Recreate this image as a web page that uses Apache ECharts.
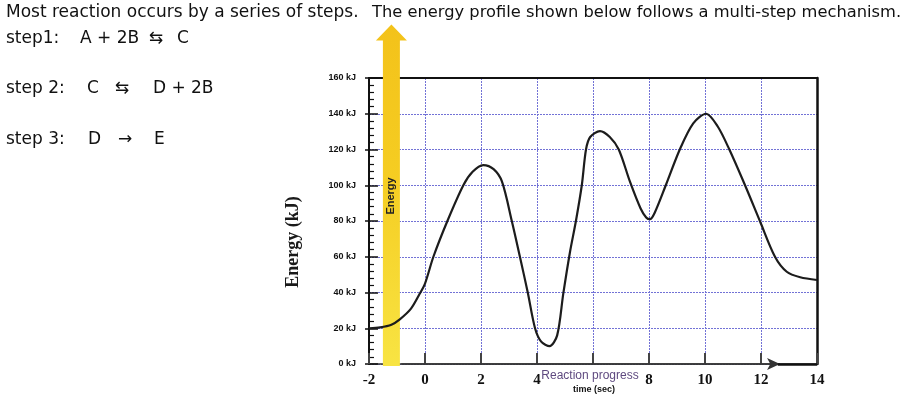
<!DOCTYPE html>
<html>
<head>
<meta charset="utf-8">
<script src="https://cdn.jsdelivr.net/npm/echarts@6/dist/echarts.min.js"></script>
<style>html,body{margin:0;padding:0;background:#fff}#c{width:913px;height:399px}</style>
</head>
<body>
<div id="c"></div>
<script>
// ---- data ----
const xTickValues = [-2, 0, 2, 4, 6, 8, 10, 12, 14];
const yTickValues = [0, 20, 40, 60, 80, 100, 120, 140, 160];
const progressX = [-2, -1.6, -1.2, -0.9, -0.5, -0.2, 0, 0.3, 0.8, 1.37, 1.7, 2.08, 2.45, 2.75, 3.1, 3.39, 3.67, 3.93, 4.15, 4.45, 4.72, 4.94, 5.18, 5.39, 5.6, 5.75, 5.9, 6.25, 6.6, 6.92, 7.32, 7.7, 7.9, 8.03, 8.2, 8.6, 9.1, 9.58, 10.04, 10.45, 10.87, 11.43, 11.96, 12.5, 12.92, 13.4, 14];
const energyKJ  = [20, 20.5, 22, 25, 31, 39, 45, 60, 80, 100, 107.5, 111.3, 109, 102, 80, 60, 40, 20, 12.5, 10, 16, 39.5, 62.8, 80, 100, 120, 127, 130.3, 127, 120, 102, 87, 82, 81, 84.5, 100, 120, 134.6, 140, 133, 120, 100, 80, 60, 51.6, 48.5, 47];
const headline = ['Most reaction occurs by a series of steps.', 'The energy profile shown below follows a multi-step mechanism.'];
const step1 = ['step1:', 'A + 2B', '\u21C6', 'C'];
const step2 = ['step 2:', 'C', '\u21C6', 'D +', '2B'];
const step3 = ['step 3:', 'D', '\u2192', 'E'];
const yAxisTitle = 'Energy (kJ)';
const barLabel = 'Energy';
const xTitle = 'Reaction progress';
const xSubTitle = 'time (sec)';

const curve = progressX.map((x, i) => [x, energyKJ[i]]);

const chart = echarts.init(document.getElementById('c'), null, {renderer: 'canvas'});
const headFont = {fontFamily: 'DejaVu Sans', fontSize: 17, fill: '#111'};
function txt(t, x, y, extra) {
  return {type: 'text', x: x, y: y, z: 100,
    style: Object.assign({text: t, align: 'left', verticalAlign: 'middle'}, headFont, extra || {})};
}
const rowXs1 = [6, 80, 149, 177];
const rowXs2 = [6, 87, 115, 153, 191];
const rowXs3 = [6, 88, 118, 154];
const graphics = [
  txt(headline[0], 6, 13),
  txt(headline[1], 372, 13, {fontSize: 16.3})
];
step1.forEach((t, i) => graphics.push(txt(t, rowXs1[i], 39)));
step2.forEach((t, i) => graphics.push(txt(t, rowXs2[i], 89)));
step3.forEach((t, i) => graphics.push(txt(t, rowXs3[i], 140)));
graphics.push({type: 'text', x: 293, y: 242, rotation: Math.PI / 2, z: 100,
  style: {text: yAxisTitle, fontFamily: 'Liberation Serif', fontWeight: 'bold', fontSize: 18, fill: '#1a1a1a', align: 'center', verticalAlign: 'middle'}});
graphics.push({type: 'text', x: 590, y: 376, z: 100,
  style: {text: xTitle, fontFamily: 'Liberation Sans', fontSize: 12, fill: '#5f4a80', align: 'center', verticalAlign: 'middle'}});
graphics.push({type: 'text', x: 594, y: 390, z: 100,
  style: {text: xSubTitle, fontFamily: 'Liberation Sans', fontWeight: 'bold', fontSize: 9, fill: '#111', align: 'center', verticalAlign: 'middle'}});

const dotted = {type: [2, 1], color: '#7272d6', width: 1};

const option = {
  animation: false,
  backgroundColor: '#fff',
  grid: {left: 369, right: 96, top: 78, bottom: 35, containLabel: false},
  xAxis: [{
    type: 'value', min: -2, max: 14, interval: 2,
    axisLine: {show: true, onZero: false, lineStyle: {color: '#333', width: 1.5}},
    axisTick: {show: true, inside: true, length: 11, lineStyle: {color: '#444', width: 2}},
    axisLabel: {formatter: v => (xTickValues.indexOf(v) >= 0 && v !== 6) ? String(v) : '',
      fontFamily: 'Liberation Serif', fontWeight: 'bold', fontSize: 15, color: '#111', margin: 9},
    splitLine: {show: true, lineStyle: dotted}
  }, {
    type: 'value', position: 'top', min: -2, max: 14, interval: 2,
    axisLine: {show: true, onZero: false, lineStyle: {color: '#111', width: 2}},
    axisTick: {show: false}, axisLabel: {show: false}, splitLine: {show: false}
  }],
  yAxis: [{
    type: 'value', min: 0, max: 160, interval: 20,
    axisLine: {show: true, onZero: false, lineStyle: {color: '#111', width: 2}},
    axisTick: {show: true, inside: true, length: 9, lineStyle: {color: '#111', width: 1.5}},
    minorTick: {show: true, splitNumber: 5, length: 5, lineStyle: {color: '#111', width: 1.2}},
    axisLabel: {formatter: v => (yTickValues.indexOf(v) >= 0 ? v + ' kJ' : ''), fontSize: 9,
      fontFamily: 'Liberation Sans', fontWeight: 'bold', color: '#111', margin: 13},
    splitLine: {show: true, lineStyle: dotted}
  }, {
    type: 'value', position: 'right', min: 0, max: 160, interval: 20,
    axisLine: {show: true, onZero: false, lineStyle: {color: '#111', width: 2.5}},
    axisTick: {show: false}, axisLabel: {show: false}, splitLine: {show: false}
  }, {
    type: 'value', position: 'left', min: 0, max: 160, interval: 20,
    axisLine: {show: false, onZero: false},
    axisTick: {show: true, inside: false, length: 4, lineStyle: {color: '#111', width: 1.5}},
    axisLabel: {show: false}, splitLine: {show: false}
  }],
  graphic: graphics,
  series: [{
    type: 'line', name: 'axisArrow', data: [[-2, 0]], symbol: 'none', silent: true, z: 1,
    lineStyle: {width: 0},
    markLine: {
      silent: true, animation: false, label: {show: false},
      data: [
        [{coord: [-0.85, 0], symbol: 'none', lineStyle: {color: '#333', width: 1.5, type: 'solid'}},
         {coord: [12.68, 0], symbol: 'arrow', symbolSize: [9, 13]}],
        [{coord: [12.6, 0], symbol: 'none', lineStyle: {color: '#111', width: 2.5, type: 'solid'}},
         {coord: [14, 0], symbol: 'none'}],
        [{coord: [14, 0], symbol: 'none', lineStyle: {color: '#111', width: 2.5, type: 'solid'}},
         {coord: [14, -4.5], symbol: 'none'}]
      ],
      itemStyle: {color: '#1f2d1f'}
    }
  }, {
    type: 'custom', name: 'energyArrow', silent: true, clip: false, z: 5,
    data: [0],
    renderItem: function (params, api) {
      const cx = api.coord([-1.2, 0])[0];
      const yb = api.coord([0, -1.1])[1];
      const yh = api.coord([0, 181])[1];
      const yt = api.coord([0, 190])[1];
      const hw = 8.5, hh = 15.5;
      return {type: 'group', children: [{
        type: 'polygon',
        shape: {points: [[cx - hw, yb], [cx - hw, yh], [cx - hh, yh], [cx, yt], [cx + hh, yh], [cx + hw, yh], [cx + hw, yb]]},
        style: {fill: new echarts.graphic.LinearGradient(0, 0, 0, 1, [
          {offset: 0, color: '#f3c21a'}, {offset: 0.45, color: '#f5cd22'}, {offset: 1, color: '#f8e443'}])}
      }, {
        type: 'text', x: cx, y: api.coord([0, 94])[1], rotation: Math.PI / 2,
        style: {text: barLabel, fontFamily: 'Liberation Sans', fontWeight: 'bold', fontSize: 11,
          fill: '#222', align: 'center', verticalAlign: 'middle'}
      }]};
    }
  }, {
    type: 'line', name: 'energy', data: curve, smooth: 0.3, symbol: 'none', z: 10,
    lineStyle: {color: '#1c1c1c', width: 2.2}
  }]
};
chart.setOption(option);
</script>
</body>
</html>
